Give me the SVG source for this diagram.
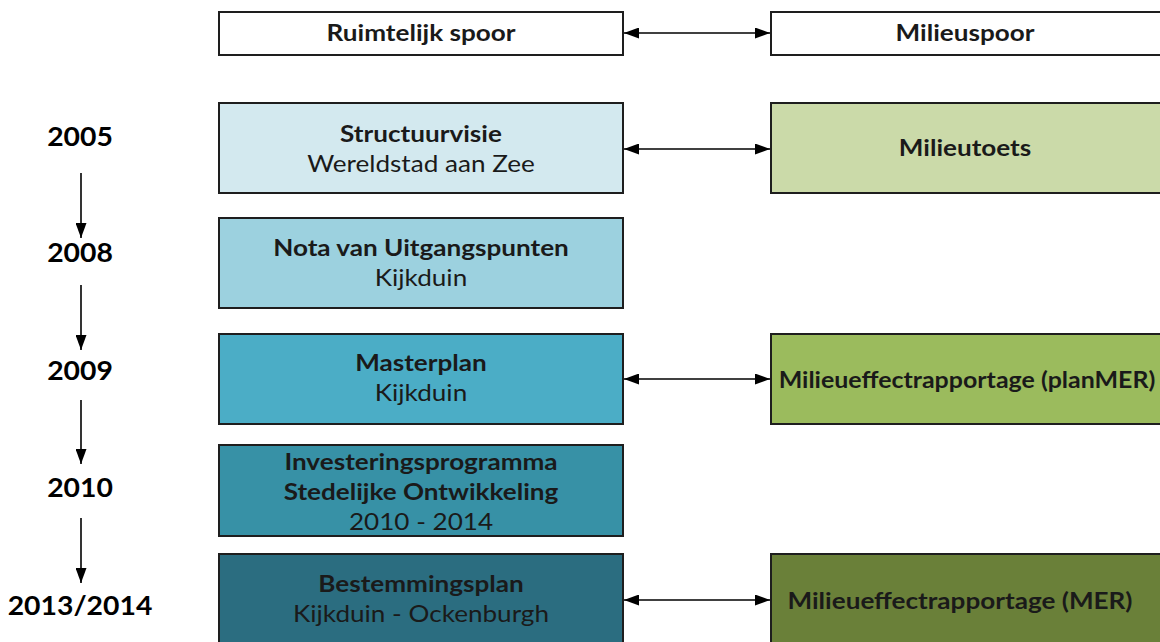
<svg xmlns="http://www.w3.org/2000/svg" width="1160" height="642" viewBox="0 0 1160 642">
<defs>
<marker id="ah" viewBox="0 0 15 11" refX="15" refY="5.5" markerWidth="15" markerHeight="11" markerUnits="userSpaceOnUse" orient="auto-start-reverse">
<path d="M0,0 L15,5.5 L0,11 Z" fill="#000"/>
</marker>
</defs>
<style>
.box{stroke:#1e1e1e;stroke-width:2}
.t{font-family:Lato,"Open Sans","Liberation Sans",sans-serif;font-size:22.5px;fill:#1a1a1a;text-anchor:middle}
.b{font-weight:bold}
.y{font-family:Lato,"Open Sans","Liberation Sans",sans-serif;font-size:26px;font-weight:bold;fill:#000;text-anchor:middle}
.c{stroke:#000;stroke-width:1.6;fill:none}
</style>
<rect width="1160" height="642" fill="#fff"/>
<g id="connectors">
<line class="c" x1="624" y1="33" x2="770" y2="33" marker-start="url(#ah)" marker-end="url(#ah)"/>
<line class="c" x1="624" y1="149" x2="770" y2="149" marker-start="url(#ah)" marker-end="url(#ah)"/>
<line class="c" x1="624" y1="379" x2="770" y2="379" marker-start="url(#ah)" marker-end="url(#ah)"/>
<line class="c" x1="624" y1="600" x2="770" y2="600" marker-start="url(#ah)" marker-end="url(#ah)"/>
<line class="c" x1="81" y1="173" x2="81" y2="238" marker-end="url(#ah)"/>
<line class="c" x1="81" y1="285" x2="81" y2="350" marker-end="url(#ah)"/>
<line class="c" x1="81" y1="400" x2="81" y2="464" marker-end="url(#ah)"/>
<line class="c" x1="81" y1="518" x2="81" y2="583" marker-end="url(#ah)"/>
</g>
<g id="years">
<text class="y" transform="translate(80,146) scale(1.09,1)">2005</text>
<text class="y" transform="translate(80,262) scale(1.09,1)">2008</text>
<text class="y" transform="translate(80,380) scale(1.09,1)">2009</text>
<text class="y" transform="translate(80,497) scale(1.09,1)">2010</text>
<text class="y" transform="translate(80,615) scale(1.09,1)">2013/2014</text>
</g>
<g id="ruimtelijk">
<rect class="box" x="219" y="12" width="404" height="43" fill="#fff"/>
<text class="t b" transform="translate(421,41) scale(1.16,1)">Ruimtelijk spoor</text>
</g>
<g id="milieu">
<rect class="box" x="771" y="12" width="400" height="43" fill="#fff"/>
<text class="t b" transform="translate(965,41) scale(1.16,1)">Milieuspoor</text>
</g>
<g id="structuurvisie">
<rect class="box" x="219" y="103" width="404" height="90" fill="#d3e9ef"/>
<text class="t b" transform="translate(421,142) scale(1.16,1)">Structuurvisie</text>
<text class="t" transform="translate(421,172) scale(1.16,1)">Wereldstad aan Zee</text>
</g>
<g id="milieutoets">
<rect class="box" x="771" y="103" width="400" height="90" fill="#cbdaa9"/>
<text class="t b" transform="translate(965,156) scale(1.16,1)">Milieutoets</text>
</g>
<g id="nota">
<rect class="box" x="219" y="218" width="404" height="90" fill="#9cd1df"/>
<text class="t b" transform="translate(421,256) scale(1.16,1)">Nota van Uitgangspunten</text>
<text class="t" transform="translate(421,286) scale(1.16,1)">Kijkduin</text>
</g>
<g id="masterplan">
<rect class="box" x="219" y="334" width="404" height="90" fill="#4badc6"/>
<text class="t b" transform="translate(421,371) scale(1.16,1)">Masterplan</text>
<text class="t" transform="translate(421,401) scale(1.16,1)">Kijkduin</text>
</g>
<g id="planmer">
<rect class="box" x="771" y="334" width="400" height="90" fill="#9bbb5d"/>
<text class="t b" transform="translate(967,388) scale(1.11,1)">Milieueffectrapportage (planMER)</text>
</g>
<g id="investering">
<rect class="box" x="219" y="445" width="404" height="91" fill="#3791a6"/>
<text class="t b" transform="translate(421,470) scale(1.16,1)">Investeringsprogramma</text>
<text class="t b" transform="translate(421,500) scale(1.16,1)">Stedelijke Ontwikkeling</text>
<text class="t" transform="translate(421,530) scale(1.16,1)">2010 - 2014</text>
</g>
<g id="bestemmingsplan">
<rect class="box" x="219" y="554" width="404" height="100" fill="#2b6d80"/>
<text class="t b" transform="translate(421,592) scale(1.16,1)">Bestemmingsplan</text>
<text class="t" transform="translate(421,622) scale(1.16,1)">Kijkduin - Ockenburgh</text>
</g>
<g id="mer">
<rect class="box" x="771" y="554" width="400" height="100" fill="#6a8039"/>
<text class="t b" transform="translate(960,609) scale(1.16,1)">Milieueffectrapportage (MER)</text>
</g>
</svg>
